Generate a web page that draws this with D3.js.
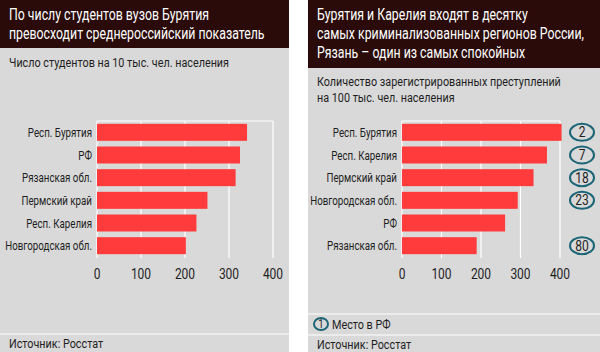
<!DOCTYPE html>
<html>
<head>
<meta charset="utf-8">
<script src="https://cdn.jsdelivr.net/npm/d3@7"></script>
<style>
  body { margin: 0; background: #fff; }
  svg text { font-family: Roboto, 'Noto Sans', sans-serif; }
</style>
</head>
<body>
<div id="vis"></div>
<script>
// left chart: students per 10k
const studentRegions = ['Респ. Бурятия', 'РФ', 'Рязанская обл.', 'Пермский край', 'Респ. Карелия', 'Новгородская обл.']
const studentValues = [341, 325, 315, 251, 226, 202]

// right chart: crimes per 100k
const crimeRegions = ['Респ. Бурятия', 'Респ. Карелия', 'Пермский край', 'Новгородская обл.', 'РФ', 'Рязанская обл.']
const crimeValues = [404, 367, 333, 293, 261, 189]
const crimeRanks = [2, 7, 18, 23, null, 80]

const ticks = [0, 100, 200, 300, 400]

const dark = '#2a0b09', grey = '#d9d9d9', red = '#ff3b3b', teal = '#1c6577', ink = '#1e1e1e'

const svg = d3.select('#vis').append('svg')
    .attr('width', 600)
    .attr('height', 352)

// condensed look: squeeze text horizontally
function txt(parent, x, y, str, size, anchor, color, sx) {
    return parent.append('text')
        .attr('transform', `translate(${x},${y}) scale(${sx || 0.8},1)`)
        .attr('font-size', size)
        .attr('text-anchor', anchor || 'start')
        .attr('fill', color || ink)
        .text(str)
}

function panel(x0, x1, headH, titleLines, subLines, subY) {
    svg.append('rect').attr('x', x0).attr('y', 0).attr('width', x1 - x0).attr('height', 352).attr('fill', grey)
    svg.append('rect').attr('x', x0).attr('y', 0).attr('width', x1 - x0).attr('height', headH).attr('fill', dark)
    titleLines.forEach((t, i) => txt(svg, x0 + 9, 20 + i * 19, t, 16, 'start', '#fff', 0.77))
    subLines.forEach((t, i) => txt(svg, x0 + 9, subY + i * 16, t, 13.5, 'start', ink, 0.8))
}

function chart(regions, values, xRange, labelX) {
    const x = d3.scaleLinear().domain([0, 400]).range(xRange)
    const y = d3.scaleBand().domain(regions).range([121, 257]).paddingInner(0.25).paddingOuter(0.125)
    const g = svg.append('g')

    // grid
    g.selectAll('.grid').data(ticks).enter().append('line')
        .attr('x1', d => x(d)).attr('x2', d => x(d))
        .attr('y1', 121).attr('y2', 258)
        .attr('stroke', '#fff').attr('stroke-width', 1.2)
    g.append('line').attr('x1', x(0)).attr('x2', x(400)).attr('y1', 121).attr('y2', 121)
        .attr('stroke', '#fff').attr('stroke-width', 1.2)

    g.selectAll('.bar').data(values).enter().append('rect')
        .attr('x', x(0))
        .attr('y', (d, i) => y(regions[i]))
        .attr('width', d => x(d) - x(0))
        .attr('height', y.bandwidth())
        .attr('fill', red)

    regions.forEach(d => txt(g, labelX, y(d) + y.bandwidth() / 2 + 4.5, d, 13, 'end', ink, 0.75))
    ticks.forEach(d => txt(g, x(d), 279, d, 15, 'middle'))
    return y
}

// left panel
panel(0, 289, 48, ['По числу студентов вузов Бурятия', 'превосходит среднероссийский показатель'],
    ['Число студентов на 10 тыс. чел. населения'], 67)
chart(studentRegions, studentValues, [97, 273], 92)
svg.append('line').attr('x1', 0).attr('x2', 289).attr('y1', 334).attr('y2', 334).attr('stroke', '#f2f2f2').attr('stroke-width', 1.5)
txt(svg, 9, 348, 'Источник: Росстат', 13.5)

// right panel
panel(308, 600, 68, ['Бурятия и Карелия входят в десятку', 'самых криминализованных регионов России,', 'Рязань – один из самых спокойных'],
    ['Количество зарегистрированных преступлений', 'на 100 тыс. чел. населения'], 86)
const yR = chart(crimeRegions, crimeValues, [402, 560], 397)

const rankG = svg.append('g')
crimeRanks.forEach((r, i) => {
    if (r === null) return
    const cy = yR(crimeRegions[i]) + yR.bandwidth() / 2
    rankG.append('ellipse').attr('cx', 582).attr('cy', cy).attr('rx', 12).attr('ry', 8.5)
        .attr('fill', 'none').attr('stroke', teal).attr('stroke-width', 2)
    txt(rankG, 582, cy + 5, r, 15, 'middle')
})

svg.append('line').attr('x1', 308).attr('x2', 600).attr('y1', 314).attr('y2', 314).attr('stroke', '#f2f2f2').attr('stroke-width', 1.5)
svg.append('line').attr('x1', 308).attr('x2', 600).attr('y1', 335).attr('y2', 335).attr('stroke', '#f2f2f2').attr('stroke-width', 1.5)
svg.append('ellipse').attr('cx', 321).attr('cy', 324).attr('rx', 7).attr('ry', 6)
    .attr('fill', 'none').attr('stroke', teal).attr('stroke-width', 2)
txt(svg, 321, 328, '1', 12, 'middle')
txt(svg, 332, 329, 'Место в РФ', 13.5)
txt(svg, 317, 349, 'Источник: Росстат', 13.5)
</script>
</body>
</html>
